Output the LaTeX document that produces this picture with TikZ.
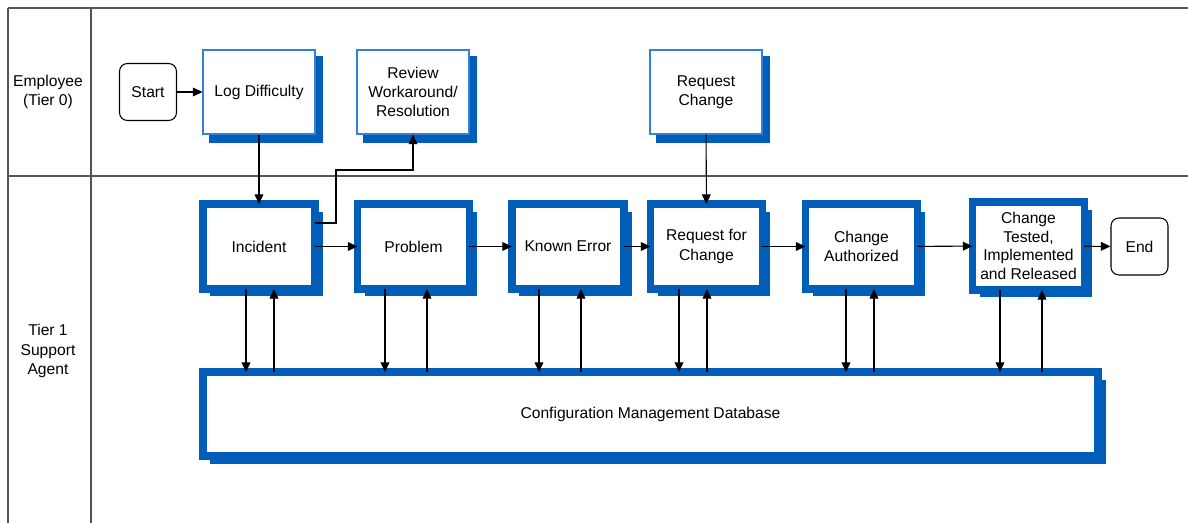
\documentclass[tikz,border=0pt]{standalone}
\usepackage{fontspec}
\setmainfont{Liberation Sans}
\usetikzlibrary{arrows.meta,calc,backgrounds}
\definecolor{cblue}{RGB}{0,94,184}
\definecolor{tblue}{RGB}{50,128,215}
\definecolor{lanec}{RGB}{85,85,85}
\begin{document}
\begin{tikzpicture}[x=0.02cm,y=-0.02cm,
  font=\fontsize{8.9}{11}\selectfont,
  thickbox/.style={draw=cblue, line width=4.5pt, fill=white, minimum width=22.4mm,
    minimum height=17mm, inner sep=0pt, outer sep=0pt, align=center},
  thinbox/.style={draw=tblue, line width=0.6pt, fill=white, minimum width=22.4mm,
    minimum height=16.8mm, inner sep=0pt, align=center},
  termbox/.style={draw=black, line width=0.6pt, rounded corners=4.5pt, fill=white,
    minimum width=11.4mm, minimum height=11.4mm, inner sep=0pt},
  lanelabel/.style={align=center, inner sep=0pt},
  arr/.style={draw=black, line width=0.6pt, -{Triangle[length=5.5pt,width=5pt]}},
  laneline/.style={draw=lanec, line width=0.9pt},
  shadowfill/.style={fill=cblue, draw=none}]
\useasboundingbox (0,0) rectangle (1188,523);

% swimlanes
\draw[laneline] (8,8) -- (1188,8);
\draw[laneline] (8,176) -- (1188,176);
\draw[laneline] (8,8) -- (8,523);
\draw[laneline] (91,8) -- (91,523);
\node[lanelabel] (lane0) at (48,92) {Employee\\(Tier 0)};
\node[lanelabel] (lane1) at (48,351) {Tier 1\\Support\\Agent};

% employee lane
\node[termbox] (start) at (148,92) {Start};
\node[thinbox] (log) at (259,92) {Log Difficulty};
\node[thinbox] (rev) at (413,92) {Review\\Workaround/\\Resolution};
\node[thinbox] (req) at (706,92) {Request\\Change};

% tier 1 lane
\node[thickbox] (inc) at (259,246.5) {Incident};
\node[thickbox] (prob) at (413.5,246.5) {Problem};
\node[thickbox] (ke) at (568,246.5) {Known Error};
\node[thickbox] (rfc) at (706.5,246.5) {Request for\\Change};
\node[thickbox] (ca) at (861.5,246.5) {Change\\Authorized};
\node[thickbox, minimum height=17.6mm, font=\fontsize{8.9}{10.6}\selectfont] (ct) at (1028.5,246) {Change\\Tested,\\Implemented\\and Released};
\node[termbox] (end) at (1139.5,246.5) {End};
\node[thickbox, minimum width=179mm, minimum height=16.8mm] (cmdb) at (650.5,414) {Configuration Management Database};

% shadows
\begin{pgfonlayer}{background}
\foreach \n in {log,rev,req}
  \fill[shadowfill] ($(\n.north west)+(7,7)$) rectangle ($(\n.south east)+(7,8)$);
\foreach \n in {inc,prob,ke,rfc,ca,ct}
  \fill[shadowfill] ($(\n.north west)+(7,8)$) rectangle ($(\n.south east)+(8,7)$);
\fill[shadowfill] ($(cmdb.north west)+(7,8)$) rectangle ($(cmdb.south east)+(8,8)$);
\end{pgfonlayer}

% connectors
\draw[arr] (start) -- (log);
\draw[arr] (log) -- (inc);
\draw[arr] (req) -- (rfc);
\draw[arr] ($(inc.east)+(0,-23.5)$) -- ++(21,0) -- ++(0,-53) -| (rev.south);
\draw[arr] (inc) -- (prob);
\draw[arr] (prob) -- (ke);
\draw[arr] (ke) -- (rfc);
\draw[arr] (rfc) -- (ca);
\draw[arr] (ca) -- (ct);
\draw[arr] (ct) -- (end);

\foreach \n/\d/\u in {inc/-13/15, prob/-28.5/13.5, ke/-29/13, rfc/-27.5/0.5, ca/-15.5/12.5, ct/-28.5/13.5}{
  \draw[arr] ($(\n.south)+(\d,0)$) -- ($(\n.south |- cmdb.north)+(\d,0)$);
  \draw[arr] ($(\n.south |- cmdb.north)+(\u,0)$) -- ($(\n.south)+(\u,0)$);
}
\end{tikzpicture}
\end{document}
